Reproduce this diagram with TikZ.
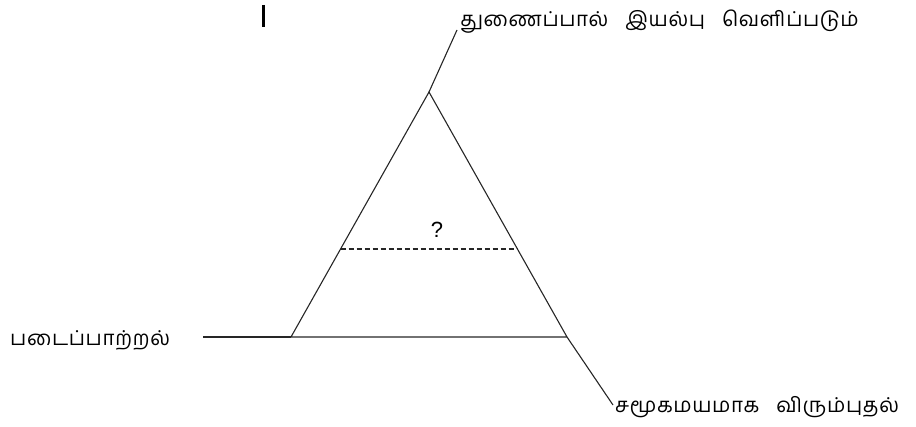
\documentclass[tikz,border=0pt]{standalone}
\usepackage{fontspec}
\setmainfont{Liberation Sans}
\newfontfamily\tamilfont[Script=Tamil,LetterSpace=3]{Hind Madurai}
\newcommand{\wg}{\hspace{17pt}}
\begin{document}
\begin{tikzpicture}[x=1pt,y=-1pt,
  lab/.style={font=\tamilfont\fontsize{20.5}{24}\selectfont, inner sep=0pt, anchor=west},
  ln/.style={line width=1.1pt, black!85}]
\useasboundingbox (0,0) rectangle (916,427);
\coordinate (apex) at (429,92);
\coordinate (bl) at (291,337);
\coordinate (br) at (567,337);
\coordinate (top) at (457,30);
\coordinate (lend) at (203,337);
\coordinate (rend) at (613,405);
\coordinate (dl) at (340.6,249);
\coordinate (dr) at (517.4,249);
\coordinate (b1) at (263,5);
\coordinate (b2) at (263,27);
\draw[line width=3pt] (b1) -- (b2);
\draw[ln] (bl) -- (apex) -- (br) -- cycle;
\draw[ln] (apex) -- (top);
\draw[ln] (lend) -- (bl);
\draw[ln] (br) -- (rend);
\draw[ln, dashed, dash pattern=on 5pt off 3pt] (dl) -- (dr);
\node[font=\fontsize{22}{24}\selectfont, inner sep=0pt] (q) at (437,230) {?};
\node[lab] (t1) at (460,22) {துணைப்பால்\wg இயல்பு\wg வெளிப்படும்};
\node[lab] (t2) at (10,340) {படைப்பாற்றல்};
\node[lab] (t3) at (615,407) {சமூகமயமாக\wg விரும்புதல்};
\end{tikzpicture}
\end{document}
